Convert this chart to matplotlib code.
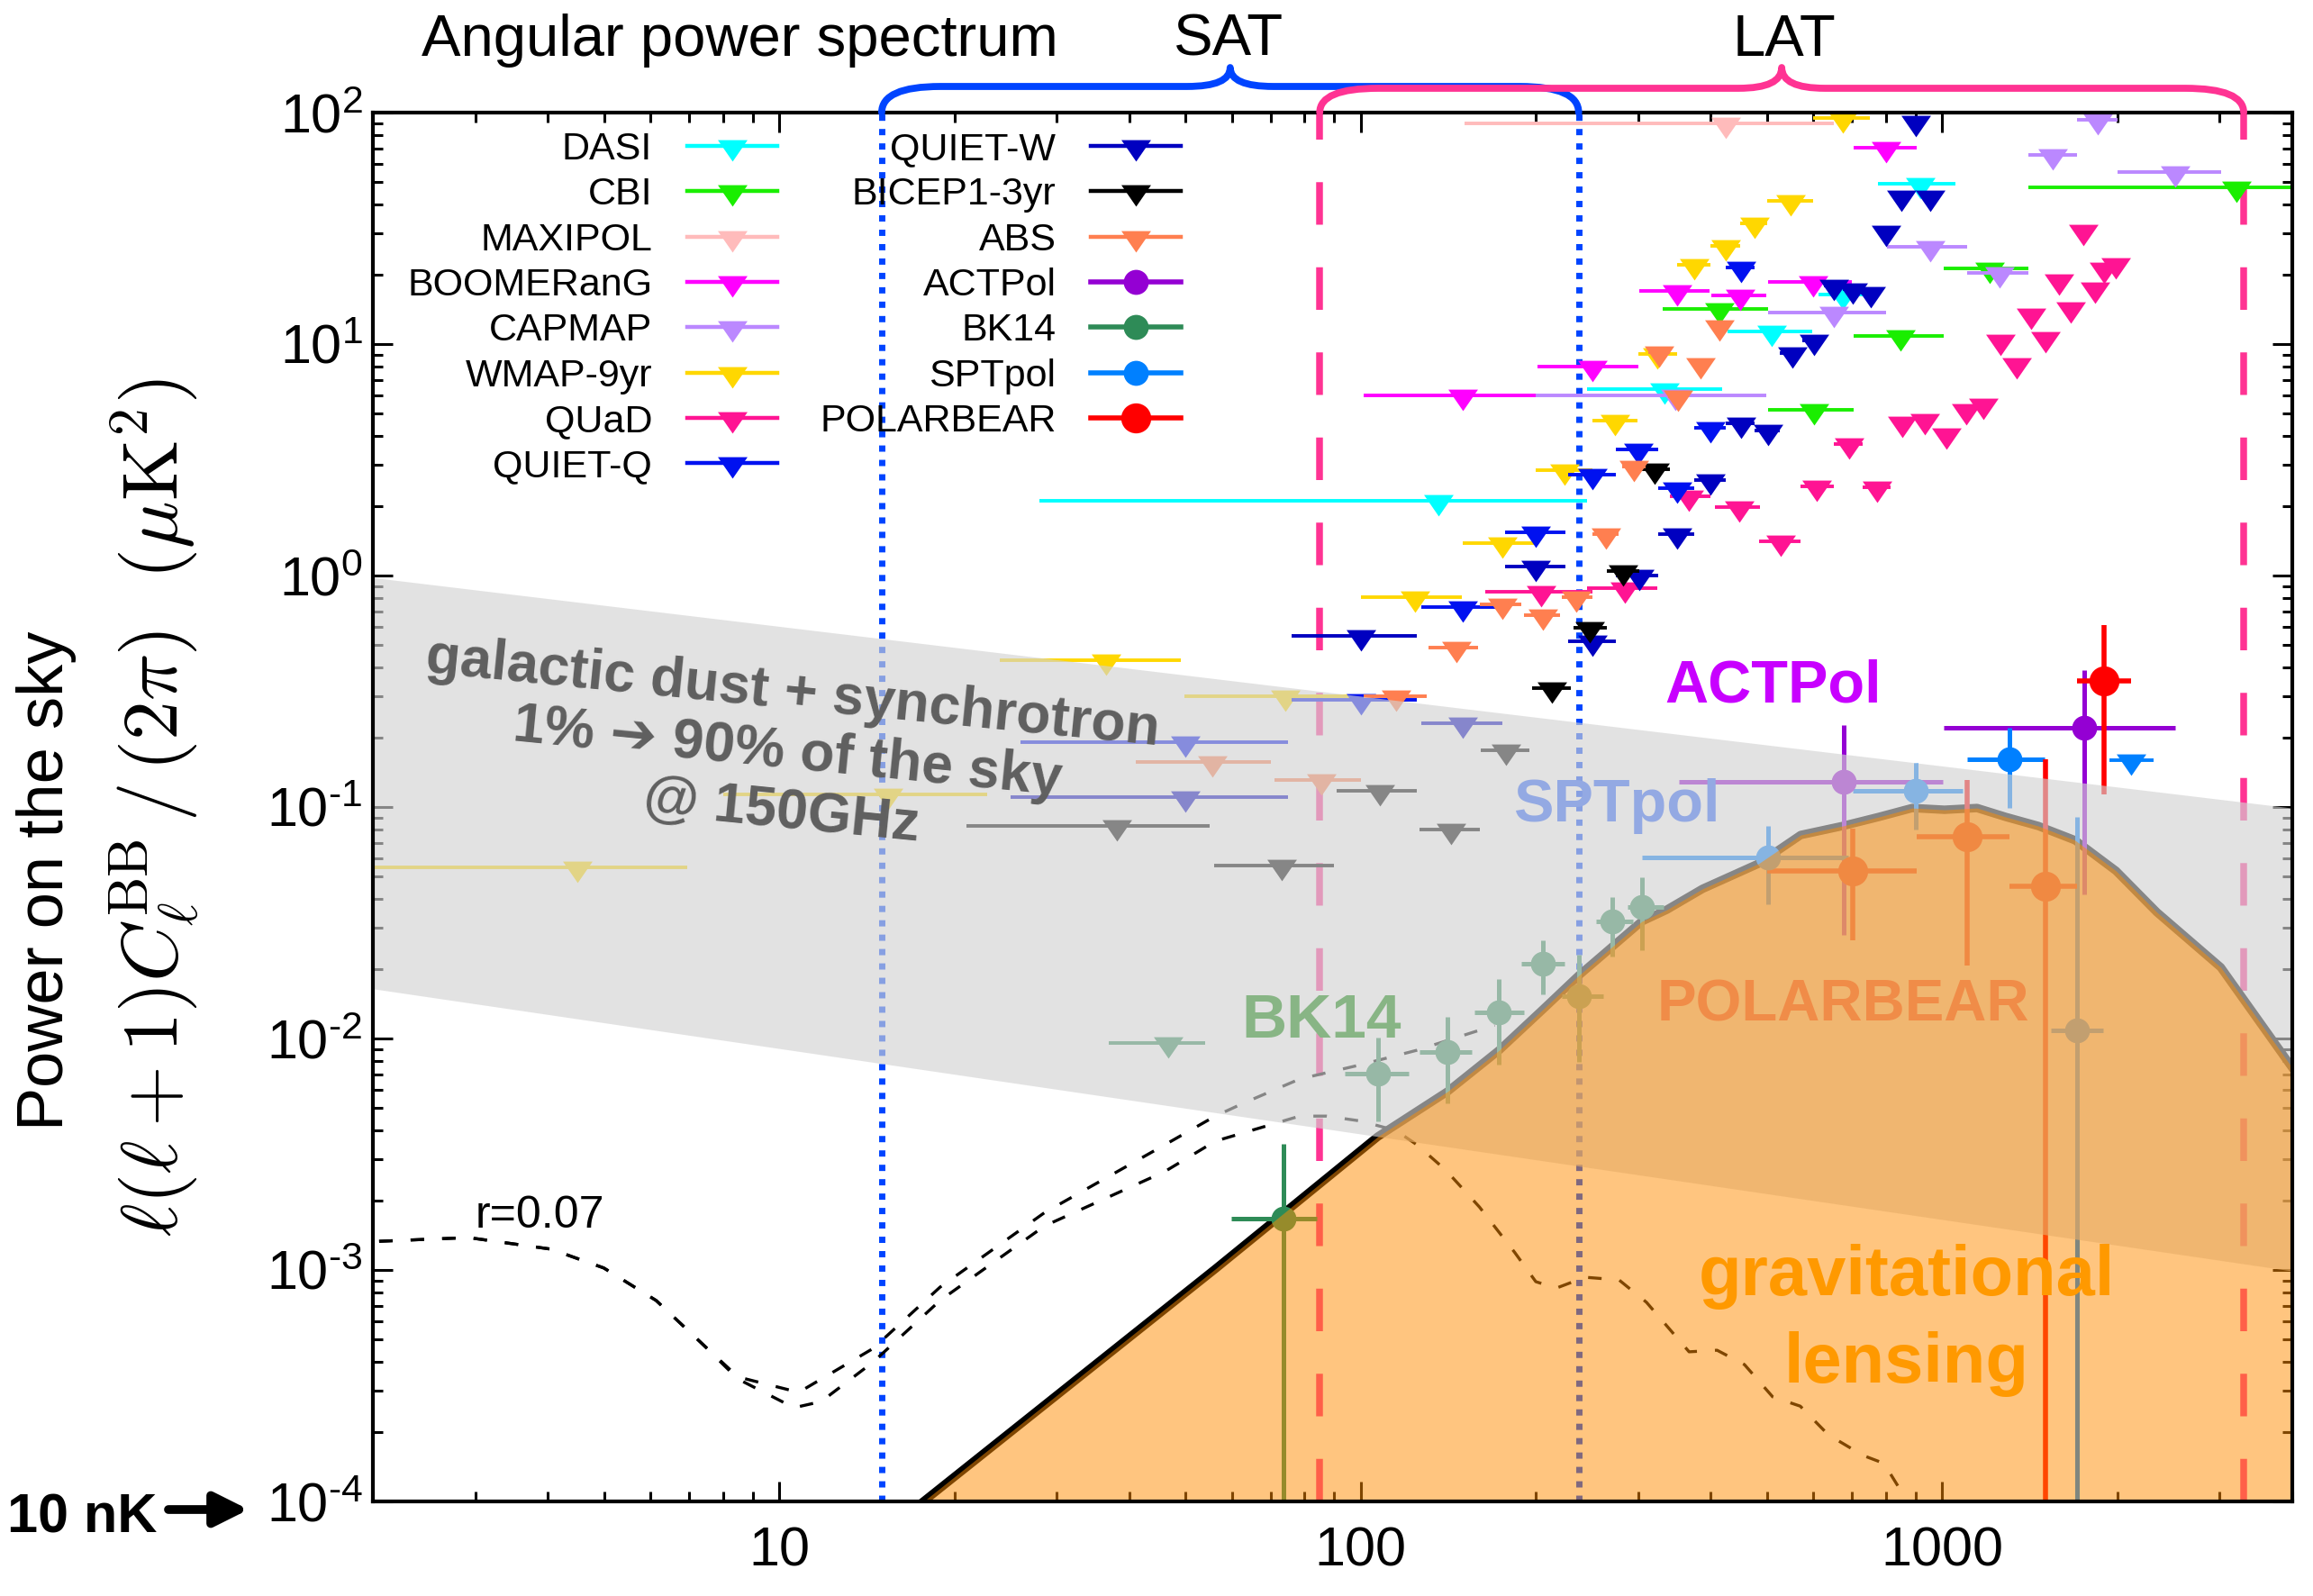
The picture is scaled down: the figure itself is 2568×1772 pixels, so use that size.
import numpy as np
import matplotlib
matplotlib.use("Agg")
import matplotlib.pyplot as plt
from matplotlib.path import Path
from matplotlib.patches import PathPatch
from matplotlib.lines import Line2D
from matplotlib.ticker import FuncFormatter, NullFormatter, LogLocator

plt.rcParams.update({
    "font.family": ["Liberation Sans", "DejaVu Sans"],
    "mathtext.fontset": "custom",
    "mathtext.rm": "Liberation Sans",
    "mathtext.it": "Liberation Sans:italic",
    "mathtext.bf": "Liberation Sans:bold",
    "axes.unicode_minus": False,
})

# ---------------------------------------------------------------- data
# upper limits: bin centre, bin edges, 95% limit (uK^2)
dasi_ell = [136, 333, 509, 674, 916]
dasi_lo = [28, 245, 427, 612, 776]
dasi_hi = [245, 419, 597, 740, 1052]
dasi_val = [2.1, 6.4, 11.3, 16.4, 49.3]

cbi_ell = [414, 601, 849, 1205, 3210]
cbi_lo = [331, 501, 703, 1006, 1406]
cbi_hi = [501, 703, 1006, 1406, 4500]
cbi_val = [14.2, 5.2, 10.8, 21.2, 47.5]

maxipol_ell = [424]
maxipol_lo = [151]
maxipol_hi = [652]
maxipol_val = [89.8]

boom_ell = [150, 250, 350, 450, 600, 801]
boom_lo = [101, 201, 301, 401, 501, 703]
boom_hi = [200, 300, 398, 499, 700, 903]
boom_val = [6.0, 8.0, 17.0, 16.2, 18.5, 70.5]

capmap_ell = [348, 650, 953, 1255, 1550, 1850, 2512]
capmap_lo = [200, 501, 803, 1103, 1406, 1706, 2000]
capmap_hi = [499, 801, 1103, 1406, 1706, 2000, 3013]
capmap_val = [6.0, 13.7, 26.3, 20.3, 65.6, 93.0, 55.3]

wmap_ell = [4.5, 15.4, 36.5, 74.3, 124, 175, 224, 274, 324, 375, 425, 475, 548, 675]
wmap_lo = [2, 8.0, 23.9, 49.8, 100, 150, 200, 250, 300, 350, 400, 450, 500, 600]
wmap_hi = [6.95, 22.8, 49, 104, 149, 199, 250, 299, 350, 400, 450, 500, 599, 750]
wmap_val = [0.055, 0.113, 0.43, 0.30, 0.81, 1.38, 2.85, 4.67, 9.06, 22.0, 26.5, 33.2, 41.6, 94.8]

quad_ell = [204, 285, 367, 447, 528, 609, 691, 772, 853, 933, 1016, 1100, 1177,
            1259, 1343, 1422, 1507, 1590, 1664, 1750, 1833, 1900, 1990]
quad_lo = [164, 245, 340, 406, 485, 571, 652, 729, 835, 915, 995, 1080, 1155,
           1235, 1320, 1400, 1485, 1565, 1640, 1725, 1810, 1875, 1965]
quad_hi = [250, 324, 400, 486, 571, 652, 731, 815, 870, 950, 1035, 1120, 1200,
           1280, 1365, 1445, 1530, 1615, 1690, 1775, 1855, 1925, 2015]
quad_val = [0.85, 0.88, 2.2, 1.98, 1.41, 2.43, 3.7, 2.41, 4.6, 4.7, 4.1, 5.2, 5.5,
            10.4, 8.2, 13.4, 10.6, 18.9, 14.3, 30.9, 17.4, 21.2, 22.2]

quietq_ell = [50, 100, 150, 200, 250, 300, 350, 400, 451]
quietq_lo = [26, 76, 127, 177, 227, 275, 325, 375, 425]
quietq_hi = [75, 125, 175, 225, 275, 325, 375, 425, 475]
quietq_val = [0.19, 0.29, 0.731, 1.54, 2.73, 3.51, 2.38, 4.35, 21.4]

quietw_ell = [50, 100, 150, 200, 250, 301, 350, 400, 451, 501, 552, 601, 652, 701,
              754, 801, 852, 900, 953]
quietw_lo = [25, 76, 127, 177, 227, 275, 325, 375, 425, 475, 525, 575, 625, 675,
             725, 775, 825, 875, 925]
quietw_hi = [75, 125, 175, 225, 275, 325, 375, 425, 475, 525, 575, 625, 675, 725,
             775, 825, 875, 925, 975]
quietw_val = [0.11, 0.548, 0.23, 1.09, 0.52, 1.0, 1.51, 2.58, 4.55, 4.23, 9.15, 10.4,
              17.9, 17.3, 16.7, 30.6, 43.5, 91.5, 43.5]

bicep_ell = [38, 73, 108, 143, 178, 213, 248, 283, 320]
bicep_lo = [21, 56, 91, 126, 161, 197, 232, 265, 303]
bicep_hi = [55, 90, 125, 160, 195, 230, 265, 301, 340]
bicep_val = [0.083, 0.0559, 0.117, 0.080, 0.176, 0.327, 0.594, 1.05, 2.88]

abs_ell = [55.5, 85.6, 115, 146, 175, 206, 235, 264, 295, 326, 351, 384, 414]
abs_lo = [41, 71, 101, 131, 160, 191, 222, 250, 282, 312, 338, 370, 400]
abs_hi = [70, 100, 130, 159, 189, 220, 250, 278, 309, 340, 365, 398, 428]
abs_val = [0.157, 0.131, 0.30, 0.49, 0.75, 0.674, 0.807, 1.51, 2.96, 9.2, 5.94, 8.2, 12.0]

bk14_lim_ell = [46.6]
bk14_lim_lo = [36.9]
bk14_lim_hi = [54]
bk14_lim_val = [0.0096]

sptpol_lim_ell = [2110]
sptpol_lim_lo = [1940]
sptpol_lim_hi = [2310]
sptpol_lim_val = [0.159]

# detections: bin centre, bin edges, band power, 1-sigma range
actpol_ell = [676, 1755]
actpol_lo = [352, 1006]
actpol_hi = [1002, 2512]
actpol_val = [0.128, 0.22]
actpol_vlo = [0.028, 0.042]
actpol_vhi = [0.226, 0.39]

bk14_ell = [73.6, 107, 141, 173, 206, 237, 271, 304]
bk14_lo = [59.8, 93.8, 126, 157, 189, 222, 254, 288]
bk14_hi = [83.9, 121, 155, 191, 224, 261, 294, 332]
bk14_val = [1.67e-3, 7.05e-3, 8.75e-3, 0.013, 0.021, 0.0152, 0.032, 0.037]
bk14_vlo = [1e-6, 4.4e-3, 5.25e-3, 7.7e-3, 0.0155, 7.9e-3, 0.0226, 0.024]
bk14_vhi = [3.51e-3, 0.0101, 0.0124, 0.018, 0.0266, 0.023, 0.041, 0.0497]

sptpol_ell = [501, 900, 1303, 1703]
sptpol_lo = [304, 701, 1103, 1540]
sptpol_hi = [690, 1084, 1500, 1890]
sptpol_val = [0.0605, 0.1175, 0.161, 0.0108]
sptpol_vlo = [0.038, 0.080, 0.099, 1e-6]
sptpol_vhi = [0.083, 0.155, 0.22, 0.0906]

pb_ell = [701, 1103, 1507, 1901]
pb_lo = [500, 903, 1303, 1706]
pb_hi = [903, 1303, 1706, 2110]
pb_val = [0.053, 0.0744, 0.0455, 0.351]
pb_vlo = [0.0265, 0.0207, 1e-6, 0.113]
pb_vhi = [0.081, 0.131, 0.161, 0.61]

# lensing B-mode spectrum
lens_ell = [17.7, 56.2, 107, 141, 173, 206, 237, 304, 336, 387, 483, 571, 674, 778,
            888, 1009, 1148, 1286, 1463, 1693, 1990, 2340, 3013, 3980]
lens_D = [1.0e-4, 1.01e-3, 3.77e-3, 5.9e-3, 8.9e-3, 1.34e-2, 1.87e-2, 3.2e-2, 3.6e-2,
          4.43e-2, 5.69e-2, 7.57e-2, 8.28e-2, 9.06e-2, 9.9e-2, 9.73e-2, 9.9e-2,
          9.06e-2, 8.28e-2, 7.18e-2, 5.3e-2, 3.51e-2, 2.03e-2, 7.6e-3]

# primordial (r=0.07) tensor spectrum and tensor+lensing
tens_ell = [2.05, 2.92, 4.05, 4.99, 6.14, 7.31, 8.49, 10.6, 11.8, 14.5, 18.9, 28.6, 46,
            56.2, 78.5, 87.3, 100, 115, 125, 140, 160, 184, 200, 217, 243, 278, 310,
            367, 410, 457, 511, 570, 637, 731, 794, 863, 900]
tens_D = [1.33e-3, 1.38e-3, 1.23e-3, 1.02e-3, 7.38e-4, 4.89e-4, 3.38e-4, 2.54e-4,
          2.70e-4, 4.0e-4, 7.38e-4, 1.55e-3, 2.66e-3, 3.6e-3, 4.62e-3, 4.62e-3,
          4.4e-3, 4.0e-3, 3.47e-3, 2.7e-3, 1.87e-3, 1.19e-3, 8.9e-4, 8.35e-4, 9.3e-4,
          9.06e-4, 7.25e-4, 4.43e-4, 4.5e-4, 3.9e-4, 2.83e-4, 2.58e-4, 1.94e-4,
          1.58e-4, 1.46e-4, 1.04e-4, 9.0e-5]
tot_ell = [2.05, 2.92, 4.05, 4.99, 6.14, 7.31, 8.49, 10.8, 14.5, 18.9, 28.6, 46, 56.2,
           62.8, 78.5, 100, 125, 170]
tot_D = [1.33e-3, 1.38e-3, 1.23e-3, 1.02e-3, 7.38e-4, 4.89e-4, 3.45e-4, 2.96e-4,
         4.58e-4, 8.43e-4, 1.77e-3, 3.47e-3, 4.62e-3, 5.25e-3, 6.68e-3, 7.7e-3,
         8.9e-3, 1.14e-2]

# galactic foreground band (edges at the ends of the ell range)
fg_ell = [2, 4000]
fg_low = [0.0164, 0.00099]
fg_high = [0.98, 0.099]

# telescope ell coverage
sat_range = [15, 237]
lat_range = [85, 3300]

# ---------------------------------------------------------------- figure
W, H = 2568, 1772
fig = plt.figure(figsize=(W / 200, H / 200), dpi=200)
ax_l, ax_r, ax_t, ax_b = 414, 2545, 125, 1667
ax = fig.add_axes([ax_l / W, 1 - ax_b / H, (ax_r - ax_l) / W, (ax_b - ax_t) / H])
ax.set_xscale("log")
ax.set_yscale("log")
XMIN, XMAX = 2, 4000
ax.set_xlim(XMIN, XMAX)
ax.set_ylim(1e-4, 100)

# downward triangle whose centroid sits on the data value
tri_down = Path([(-1, 0.42), (1, 0.42), (0, -1.03), (-1, 0.42)],
                [Path.MOVETO, Path.LINETO, Path.LINETO, Path.CLOSEPOLY])
TRI_MS = 12.2

SAT_C = "#0044ff"
LAT_C = "#ff3393"

ax.axvline(sat_range[0], color=SAT_C, lw=2.5, ls=(0, (1, 1.3)), zorder=1)
ax.axvline(sat_range[1], color=SAT_C, lw=2.5, ls=(0, (1, 1.3)), zorder=1)
ax.axvline(lat_range[0], color=LAT_C, lw=2.7, ls=(0, (6.3, 6.3)), zorder=1)
ax.axvline(lat_range[1], color=LAT_C, lw=2.7, ls=(0, (6.3, 6.3)), zorder=1)

ax.plot(tens_ell, tens_D, color="black", lw=1.2, ls=(0, (4.5, 6.0)), zorder=1.5)
ax.plot(tot_ell, tot_D, color="black", lw=1.2, ls=(0, (4.5, 6.0)), zorder=1.5)
ax.plot(lens_ell, lens_D, color="black", lw=3.4, zorder=2)


def upper_limits(ell, lo, hi, val, color):
    ell, lo, hi = np.asarray(ell, float), np.asarray(lo, float), np.asarray(hi, float)
    ax.errorbar(ell, val, xerr=[ell - lo, hi - ell], fmt="none", ecolor=color,
                elinewidth=1.4, capsize=0, zorder=3)
    ax.plot(ell, val, ls="none", marker=tri_down, ms=TRI_MS, mfc=color, mec="none",
            zorder=3)


def detections(ell, lo, hi, val, vlo, vhi, color, ms=10, lw=1.8):
    ell, lo, hi = np.asarray(ell, float), np.asarray(lo, float), np.asarray(hi, float)
    val, vlo, vhi = np.asarray(val), np.asarray(vlo), np.asarray(vhi)
    ax.errorbar(ell, val, xerr=[ell - lo, hi - ell], yerr=[val - vlo, vhi - val],
                fmt="o", color=color, ms=ms, mew=0, elinewidth=lw, capsize=0, zorder=3)


colors = {
    "DASI": "#00ffff", "CBI": "#1aee00", "MAXIPOL": "#ffbbbb", "BOOMERanG": "#ff00ff",
    "CAPMAP": "#bb88ff", "WMAP-9yr": "#ffd700", "QUaD": "#ff1493", "QUIET-Q": "#0011f0",
    "QUIET-W": "#0000c0", "BICEP1-3yr": "#000000", "ABS": "#ff7f50",
    "ACTPol": "#9400d3", "BK14": "#2e8b57", "SPTpol": "#0080ff", "POLARBEAR": "#ff0000",
}

upper_limits(dasi_ell, dasi_lo, dasi_hi, dasi_val, colors["DASI"])
upper_limits(cbi_ell, cbi_lo, cbi_hi, cbi_val, colors["CBI"])
upper_limits(maxipol_ell, maxipol_lo, maxipol_hi, maxipol_val, colors["MAXIPOL"])
upper_limits(boom_ell, boom_lo, boom_hi, boom_val, colors["BOOMERanG"])
upper_limits(capmap_ell, capmap_lo, capmap_hi, capmap_val, colors["CAPMAP"])
upper_limits(wmap_ell, wmap_lo, wmap_hi, wmap_val, colors["WMAP-9yr"])
upper_limits(quad_ell, quad_lo, quad_hi, quad_val, colors["QUaD"])
upper_limits(quietq_ell, quietq_lo, quietq_hi, quietq_val, colors["QUIET-Q"])
upper_limits(quietw_ell, quietw_lo, quietw_hi, quietw_val, colors["QUIET-W"])
upper_limits(bicep_ell, bicep_lo, bicep_hi, bicep_val, colors["BICEP1-3yr"])
upper_limits(abs_ell, abs_lo, abs_hi, abs_val, colors["ABS"])
upper_limits(bk14_lim_ell, bk14_lim_lo, bk14_lim_hi, bk14_lim_val, colors["BK14"])
upper_limits(sptpol_lim_ell, sptpol_lim_lo, sptpol_lim_hi, sptpol_lim_val, colors["SPTpol"])

detections(actpol_ell, actpol_lo, actpol_hi, actpol_val, actpol_vlo, actpol_vhi, colors["ACTPol"])
detections(bk14_ell, bk14_lo, bk14_hi, bk14_val, bk14_vlo, bk14_vhi, colors["BK14"])
detections(sptpol_ell, sptpol_lo, sptpol_hi, sptpol_val, sptpol_vlo, sptpol_vhi, colors["SPTpol"])
detections(pb_ell, pb_lo, pb_hi, pb_val, pb_vlo, pb_vhi, colors["POLARBEAR"], ms=12, lw=2.0)

# translucent foreground band and lensing area laid over the measurements
ax.fill_between(fg_ell, fg_low, fg_high, color="#d3d3d3", alpha=0.64, lw=0, zorder=4)
ax.fill_between(lens_ell, 1e-6, lens_D, color="darkorange", alpha=0.5, lw=0, zorder=5)

# ---------------------------------------------------------------- axes styling
for s in ax.spines.values():
    s.set_linewidth(1.5)
    s.set_zorder(8)
ax.tick_params(which="both", direction="in", top=True, right=True, width=1.1)
ax.tick_params(which="major", length=8, labelsize=22)
ax.tick_params(which="minor", length=4)
ax.tick_params(axis="x", pad=10)
ax.tick_params(axis="y", pad=4)
ax.xaxis.set_major_formatter(FuncFormatter(lambda v, p: f"{v:g}"))
ax.xaxis.set_minor_formatter(NullFormatter())
ax.yaxis.set_major_locator(LogLocator(base=10, numticks=20))
ax.yaxis.set_minor_locator(LogLocator(base=10, subs=np.arange(2, 10), numticks=20))
ax.yaxis.set_minor_formatter(NullFormatter())


def ylab(v, p):
    e = int(round(np.log10(v)))
    s = str(e) if e >= 0 else r"\text{-}" + str(-e)
    return r"$10^{%s}$" % s


ax.yaxis.set_major_formatter(FuncFormatter(ylab))

# ---------------------------------------------------------------- legend
names = ["DASI", "CBI", "MAXIPOL", "BOOMERanG", "CAPMAP", "WMAP-9yr", "QUaD", "QUIET-Q",
         "QUIET-W", "BICEP1-3yr", "ABS", "ACTPol", "BK14", "SPTpol", "POLARBEAR"]
detected = {"ACTPol": 10, "BK14": 10, "SPTpol": 10, "POLARBEAR": 12}
handles = []
for n in names:
    if n in detected:
        handles.append(Line2D([], [], color=colors[n], lw=2.0, marker="o",
                              ms=detected[n], mew=0))
    else:
        handles.append(Line2D([], [], color=colors[n], lw=1.6, marker=tri_down,
                              ms=TRI_MS, mec="none"))
leg = ax.legend(handles, names, ncol=2, markerfirst=False, frameon=False,
                loc="upper left", bbox_to_anchor=(452 / W, 1 - 146 / H),
                bbox_transform=fig.transFigure, borderpad=0, borderaxespad=0,
                handlelength=2.32, handletextpad=0.9, columnspacing=1.1,
                labelspacing=0.24, fontsize=15.5)
leg.set_zorder(9)

# ---------------------------------------------------------------- braces


def fx(ell):
    return (np.log10(ell) - np.log10(XMIN)) / (np.log10(XMAX) - np.log10(XMIN))


def brace(l0, l1, y_flat, y_tip, color):
    x0, x1 = fx(l0), fx(l1)
    xm = 0.5 * (x0 + x1)
    dxe, dxt = 65 / (ax_r - ax_l), 48 / (ax_r - ax_l)
    yb = 1.0
    verts = [(x0, yb), (x0, y_flat), (x0 + dxe, y_flat), (xm - dxt, y_flat),
             (xm, y_flat), (xm, y_tip), (xm, y_flat), (xm + dxt, y_flat),
             (x1 - dxe, y_flat), (x1, y_flat), (x1, yb)]
    codes = [Path.MOVETO, Path.CURVE3, Path.CURVE3, Path.LINETO, Path.CURVE3,
             Path.CURVE3, Path.CURVE3, Path.CURVE3, Path.LINETO, Path.CURVE3,
             Path.CURVE3]
    ax.add_patch(PathPatch(Path(verts, codes), fill=False, ec=color, lw=2.8,
                           transform=ax.transAxes, clip_on=False, zorder=10,
                           capstyle="round", joinstyle="round"))


hpx = ax_b - ax_t
brace(sat_range[0], sat_range[1], 1 + 29 / hpx, 1 + 50 / hpx, SAT_C)
brace(lat_range[0], lat_range[1], 1 + 27 / hpx, 1 + 50 / hpx, LAT_C)

fig.text(468 / W, 1 - 62 / H, "Angular power spectrum", fontsize=23.5, ha="left",
         va="baseline")
fig.text(1364 / W, 1 - 62 / H, "SAT", fontsize=23.5, ha="center", va="baseline")
fig.text(1981 / W, 1 - 62 / H, "LAT", fontsize=23.5, ha="center", va="baseline")

# ---------------------------------------------------------------- labels
fig.text(52 / W, 1 - 978 / H, "Power on the sky", rotation=90, ha="center",
         va="center", fontsize=26)
fig.text(172 / W, 1 - 897 / H,
         r"$\ell(\ell+1)C_\ell^{\rm BB}\,/\,(2\pi)\ \ (\mu{\rm K}^2)$",
         rotation=90, ha="center", va="center", fontsize=31.5, math_fontfamily="cm")

fig.text(8 / W, 1 - 1701 / H, "10 nK", fontsize=22, fontweight="bold", ha="left",
         va="baseline")
ax.annotate("", xy=(276, H - 1676), xycoords="figure pixels",
            xytext=(187, H - 1676), textcoords="figure pixels",
            arrowprops=dict(arrowstyle="-|>", color="black", lw=3.5,
                            mutation_scale=28, shrinkA=0, shrinkB=0))

ax.text(3.87, 1.52e-3, "r=0.07", fontsize=18, ha="center", va="baseline", zorder=6)

fig.text(874 / W, 1 - 836 / H,
         "galactic dust + synchrotron\n1% \u2794 90% of the sky\n@ 150GHz",
         rotation=-5.7, rotation_mode="anchor", ha="center", va="center",
         multialignment="center", fontsize=22.5, fontweight="bold", color="#5f5f5f",
         linespacing=1.15, family=["Liberation Sans", "DejaVu Sans"])

fig.text(1969 / W, 1 - 779 / H, "ACTPol", fontsize=24, fontweight="bold",
         color="#c800ff", ha="center", va="baseline")
fig.text(1795 / W, 1 - 912 / H, "SPTpol", fontsize=24, fontweight="bold",
         color="#93a9e3", ha="center", va="baseline")
fig.text(1467 / W, 1 - 1152 / H, "BK14", fontsize=25, fontweight="bold",
         color="#88b585", ha="center", va="baseline")
fig.text(2046 / W, 1 - 1134 / H, "POLARBEAR", fontsize=23.5, fontweight="bold",
         color="#f08c48", ha="center", va="baseline")
fig.text(2117 / W, 1 - 1438 / H, "gravitational", fontsize=28, fontweight="bold",
         color="#ff9900", ha="center", va="baseline")
fig.text(2117 / W, 1 - 1535 / H, "lensing", fontsize=28, fontweight="bold",
         color="#ff9900", ha="center", va="baseline")

fig.savefig("out.png", dpi=200)
